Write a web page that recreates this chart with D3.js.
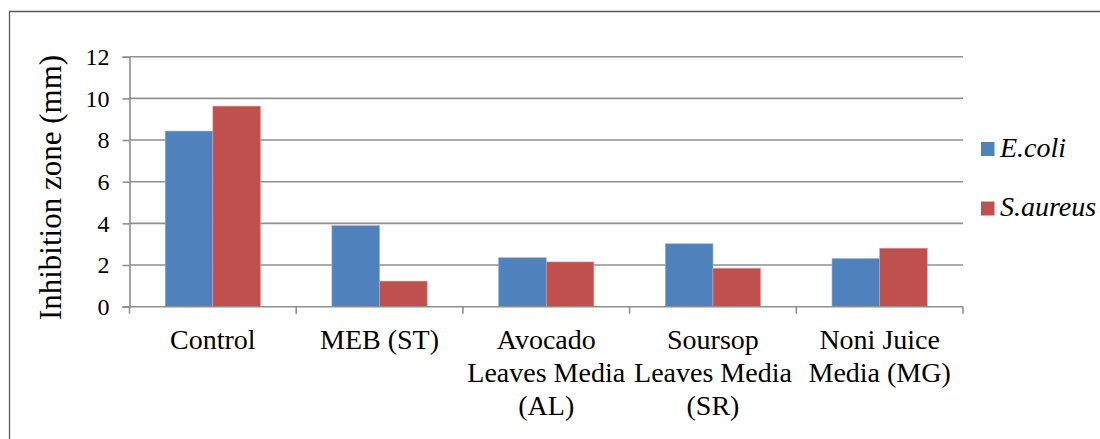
<!DOCTYPE html>
<html>
<head>
<meta charset="utf-8">
<script src="https://cdn.jsdelivr.net/npm/d3@7"></script>
<style>
  html, body { margin: 0; padding: 0; background: #fff; }
  svg { display: block; }
</style>
</head>
<body>
<svg id="chart" width="1100" height="439"></svg>
<script>
// Inhibition zone diameters (mm) per medium
const categories = [
  ["Control"],
  ["MEB (ST)"],
  ["Avocado", "Leaves Media", "(AL)"],
  ["Soursop", "Leaves Media", "(SR)"],
  ["Noni Juice", "Media (MG)"]
];
const seriesNames = ["E.coli", "S.aureus"];
const ecoli   = [8.43, 3.89, 2.35, 3.02, 2.31];
const saureus = [9.63, 1.23, 2.15, 1.85, 2.81];
const yTicks  = [0, 2, 4, 6, 8, 10, 12];
const colors  = ["#4f81bd", "#c0504d"];

const FONT = "'Liberation Serif', 'Times New Roman', 'DejaVu Serif', serif";
const svg = d3.select("#chart");

// outer frame (top and left edges)
svg.append("path")
  .attr("d", "M9.5,439 V11.5 H1100")
  .attr("fill", "none")
  .attr("stroke", "#5a5a5a")
  .attr("stroke-width", 1.3);

const plot = { left: 129.5, right: 963, top: 56.7, bottom: 306.7 };

const x0 = d3.scaleBand()
  .domain(d3.range(categories.length))
  .range([plot.left, plot.right])
  .paddingInner(0)
  .paddingOuter(0);

// two bars fill 2 of 3.5 units per group (150% gap split on both sides)
const groupInner = d3.scaleBand()
  .domain(d3.range(seriesNames.length))
  .range([0, x0.bandwidth()])
  .paddingInner(0)
  .paddingOuter(0.75);

const y = d3.scaleLinear().domain([0, 12]).range([plot.bottom, plot.top]);

// horizontal gridlines
svg.append("g")
  .selectAll("line")
  .data(yTicks.filter(t => t > 0))
  .join("line")
  .attr("x1", plot.left).attr("x2", plot.right)
  .attr("y1", d => y(d)).attr("y2", d => y(d))
  .attr("stroke", "#8f8f8f")
  .attr("stroke-width", 1.6);

// y axis
const yAxis = d3.axisLeft(y).tickValues(yTicks).tickSize(7).tickPadding(13).tickFormat(d3.format("d"));
const gy = svg.append("g").attr("transform", `translate(${plot.left},0)`).call(yAxis);
gy.select(".domain").attr("stroke", "#8f8f8f").attr("stroke-width", 1.6);
gy.selectAll(".tick line").attr("stroke", "#8f8f8f").attr("stroke-width", 1.6);
gy.selectAll(".tick text")
  .attr("font-size", 24)
  .attr("fill", "#000");

// bars
const series = [ecoli, saureus];
const groups = svg.append("g").selectAll("g")
  .data(categories.map((c, i) => i))
  .join("g")
  .attr("transform", i => `translate(${x0(i)},0)`);

groups.selectAll("rect")
  .data(i => series.map((s, k) => ({ k, v: s[i] })))
  .join("rect")
  .attr("x", d => groupInner(d.k))
  .attr("width", groupInner.bandwidth())
  .attr("y", d => y(d.v))
  .attr("height", d => y(0) - y(d.v))
  .attr("fill", d => colors[d.k])
  .attr("stroke", d => d.k === 0 ? "#8fb0d8" : "#e0a3a1")
  .attr("stroke-width", 0.6);

// x axis with category boundary ticks
const gx = svg.append("g");
gx.append("line")
  .attr("x1", plot.left - 7).attr("x2", plot.right)
  .attr("y1", plot.bottom).attr("y2", plot.bottom)
  .attr("stroke", "#8f8f8f").attr("stroke-width", 1.6);
gx.selectAll("line.bt")
  .data(d3.range(categories.length + 1))
  .join("line")
  .attr("class", "bt")
  .attr("x1", i => i < categories.length ? x0(i) : plot.right)
  .attr("x2", i => i < categories.length ? x0(i) : plot.right)
  .attr("y1", plot.bottom).attr("y2", plot.bottom + 7)
  .attr("stroke", "#8f8f8f").attr("stroke-width", 1.6);

// category labels
const lab = svg.append("g").selectAll("text")
  .data(categories.map((c, i) => ({ c, i })))
  .join("text")
  .attr("text-anchor", "middle")
  .attr("font-size", 28)
  .attr("x", d => x0(d.i) + x0.bandwidth() / 2)
  .attr("y", 348.5);
lab.selectAll("tspan")
  .data(d => d.c.map((line, j) => ({ line, j, cx: x0(d.i) + x0.bandwidth() / 2 })))
  .join("tspan")
  .attr("x", d => d.cx)
  .attr("dy", d => d.j === 0 ? 0 : 33)
  .text(d => d.line);

// y axis title
svg.append("text")
  .attr("transform", "translate(61,187.5) rotate(-90)")
  .attr("text-anchor", "middle")
  .attr("font-size", 31)
  .text("Inhibition zone (mm)");

// legend
const legend = svg.append("g").selectAll("g")
  .data(seriesNames.map((n, k) => ({ n, k })))
  .join("g")
  .attr("transform", d => `translate(981,${142 + d.k * 59.5})`);
legend.append("rect")
  .attr("width", 13.5).attr("height", 14)
  .attr("fill", d => colors[d.k]);
legend.append("text")
  .attr("x", 19).attr("y", 14.5)
  .attr("font-size", 28)
  .attr("font-style", "italic")
  .text(d => d.n);

// one serif face for every label
svg.selectAll("text").style("font-family", FONT).style("fill", "#000");
</script>
</body>
</html>
